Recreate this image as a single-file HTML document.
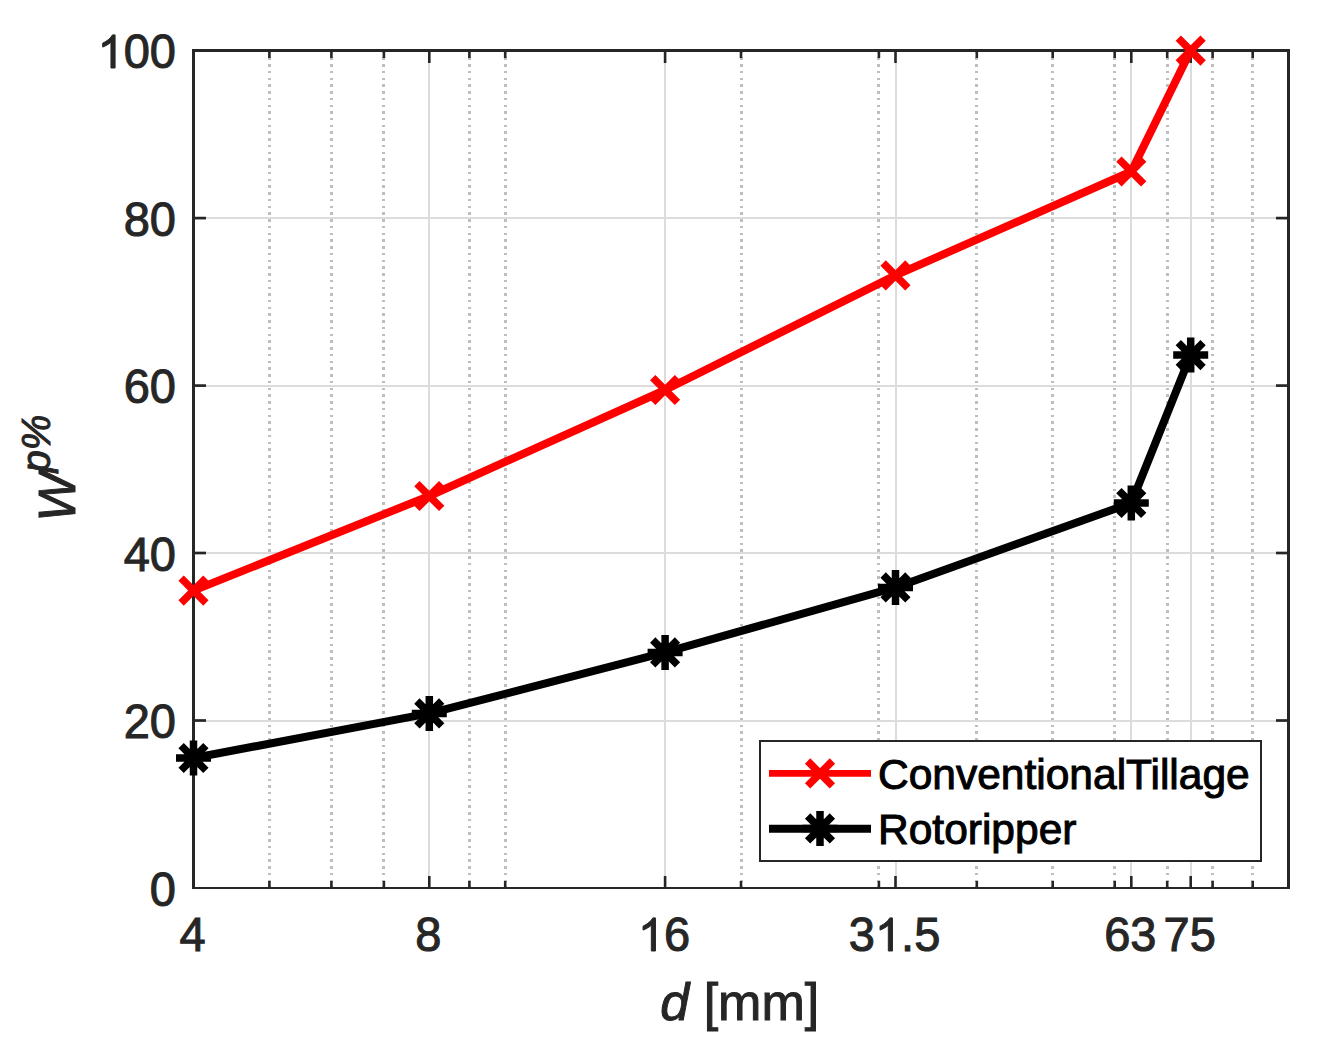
<!DOCTYPE html>
<html><head><meta charset="utf-8"><style>
html,body{margin:0;padding:0;background:#fff;width:1328px;height:1048px;overflow:hidden}
svg{display:block}
</style></head><body>
<svg width="1328" height="1048" viewBox="0 0 1328 1048">
<rect x="0" y="0" width="1328" height="1048" fill="#fff"/>
<line x1="269.5" y1="50.6" x2="269.5" y2="887" stroke="#bebebe" stroke-width="3" stroke-dasharray="2.5 4.24" shape-rendering="crispEdges"/>
<line x1="331.5" y1="50.6" x2="331.5" y2="887" stroke="#bebebe" stroke-width="3" stroke-dasharray="2.5 4.24" shape-rendering="crispEdges"/>
<line x1="383.5" y1="50.6" x2="383.5" y2="887" stroke="#bebebe" stroke-width="3" stroke-dasharray="2.5 4.24" shape-rendering="crispEdges"/>
<line x1="469.5" y1="50.6" x2="469.5" y2="887" stroke="#bebebe" stroke-width="3" stroke-dasharray="2.5 4.24" shape-rendering="crispEdges"/>
<line x1="505.5" y1="50.6" x2="505.5" y2="887" stroke="#bebebe" stroke-width="3" stroke-dasharray="2.5 4.24" shape-rendering="crispEdges"/>
<line x1="741.5" y1="50.6" x2="741.5" y2="887" stroke="#bebebe" stroke-width="3" stroke-dasharray="2.5 4.24" shape-rendering="crispEdges"/>
<line x1="878.5" y1="50.6" x2="878.5" y2="887" stroke="#bebebe" stroke-width="3" stroke-dasharray="2.5 4.24" shape-rendering="crispEdges"/>
<line x1="976.5" y1="50.6" x2="976.5" y2="887" stroke="#bebebe" stroke-width="3" stroke-dasharray="2.5 4.24" shape-rendering="crispEdges"/>
<line x1="1052.5" y1="50.6" x2="1052.5" y2="887" stroke="#bebebe" stroke-width="3" stroke-dasharray="2.5 4.24" shape-rendering="crispEdges"/>
<line x1="1114.5" y1="50.6" x2="1114.5" y2="887" stroke="#bebebe" stroke-width="3" stroke-dasharray="2.5 4.24" shape-rendering="crispEdges"/>
<line x1="1167.5" y1="50.6" x2="1167.5" y2="887" stroke="#bebebe" stroke-width="3" stroke-dasharray="2.5 4.24" shape-rendering="crispEdges"/>
<line x1="1212.5" y1="50.6" x2="1212.5" y2="887" stroke="#bebebe" stroke-width="3" stroke-dasharray="2.5 4.24" shape-rendering="crispEdges"/>
<line x1="1252.5" y1="50.6" x2="1252.5" y2="887" stroke="#bebebe" stroke-width="3" stroke-dasharray="2.5 4.24" shape-rendering="crispEdges"/>
<line x1="429" y1="52" x2="429" y2="887" stroke="#dcdcdc" stroke-width="2"/>
<line x1="665" y1="52" x2="665" y2="887" stroke="#dcdcdc" stroke-width="2"/>
<line x1="896" y1="52" x2="896" y2="887" stroke="#dcdcdc" stroke-width="2"/>
<line x1="1131" y1="52" x2="1131" y2="887" stroke="#dcdcdc" stroke-width="2"/>
<line x1="1191" y1="52" x2="1191" y2="887" stroke="#dcdcdc" stroke-width="2"/>
<line x1="195" y1="721" x2="1287" y2="721" stroke="#dcdcdc" stroke-width="2"/>
<line x1="195" y1="553" x2="1287" y2="553" stroke="#dcdcdc" stroke-width="2"/>
<line x1="195" y1="386" x2="1287" y2="386" stroke="#dcdcdc" stroke-width="2"/>
<line x1="195" y1="218" x2="1287" y2="218" stroke="#dcdcdc" stroke-width="2"/>
<line x1="269.4" y1="51" x2="269.4" y2="58" stroke="#262626" stroke-width="2.6"/>
<line x1="269.4" y1="887" x2="269.4" y2="881" stroke="#262626" stroke-width="2.6"/>
<line x1="331.4" y1="51" x2="331.4" y2="58" stroke="#262626" stroke-width="2.6"/>
<line x1="331.4" y1="887" x2="331.4" y2="881" stroke="#262626" stroke-width="2.6"/>
<line x1="383.9" y1="51" x2="383.9" y2="58" stroke="#262626" stroke-width="2.6"/>
<line x1="383.9" y1="887" x2="383.9" y2="881" stroke="#262626" stroke-width="2.6"/>
<line x1="469.4" y1="51" x2="469.4" y2="58" stroke="#262626" stroke-width="2.6"/>
<line x1="469.4" y1="887" x2="469.4" y2="881" stroke="#262626" stroke-width="2.6"/>
<line x1="505.2" y1="51" x2="505.2" y2="58" stroke="#262626" stroke-width="2.6"/>
<line x1="505.2" y1="887" x2="505.2" y2="881" stroke="#262626" stroke-width="2.6"/>
<line x1="741.0" y1="51" x2="741.0" y2="58" stroke="#262626" stroke-width="2.6"/>
<line x1="741.0" y1="887" x2="741.0" y2="881" stroke="#262626" stroke-width="2.6"/>
<line x1="878.9" y1="51" x2="878.9" y2="58" stroke="#262626" stroke-width="2.6"/>
<line x1="878.9" y1="887" x2="878.9" y2="881" stroke="#262626" stroke-width="2.6"/>
<line x1="976.8" y1="51" x2="976.8" y2="58" stroke="#262626" stroke-width="2.6"/>
<line x1="976.8" y1="887" x2="976.8" y2="881" stroke="#262626" stroke-width="2.6"/>
<line x1="1052.7" y1="51" x2="1052.7" y2="58" stroke="#262626" stroke-width="2.6"/>
<line x1="1052.7" y1="887" x2="1052.7" y2="881" stroke="#262626" stroke-width="2.6"/>
<line x1="1114.7" y1="51" x2="1114.7" y2="58" stroke="#262626" stroke-width="2.6"/>
<line x1="1114.7" y1="887" x2="1114.7" y2="881" stroke="#262626" stroke-width="2.6"/>
<line x1="1167.2" y1="51" x2="1167.2" y2="58" stroke="#262626" stroke-width="2.6"/>
<line x1="1167.2" y1="887" x2="1167.2" y2="881" stroke="#262626" stroke-width="2.6"/>
<line x1="1212.6" y1="51" x2="1212.6" y2="58" stroke="#262626" stroke-width="2.6"/>
<line x1="1212.6" y1="887" x2="1212.6" y2="881" stroke="#262626" stroke-width="2.6"/>
<line x1="1252.7" y1="51" x2="1252.7" y2="58" stroke="#262626" stroke-width="2.6"/>
<line x1="1252.7" y1="887" x2="1252.7" y2="881" stroke="#262626" stroke-width="2.6"/>
<line x1="429.3" y1="51" x2="429.3" y2="63" stroke="#262626" stroke-width="2.6"/>
<line x1="429.3" y1="887" x2="429.3" y2="876" stroke="#262626" stroke-width="2.6"/>
<line x1="665.1" y1="51" x2="665.1" y2="63" stroke="#262626" stroke-width="2.6"/>
<line x1="665.1" y1="887" x2="665.1" y2="876" stroke="#262626" stroke-width="2.6"/>
<line x1="895.5" y1="51" x2="895.5" y2="63" stroke="#262626" stroke-width="2.6"/>
<line x1="895.5" y1="887" x2="895.5" y2="876" stroke="#262626" stroke-width="2.6"/>
<line x1="1131.3" y1="51" x2="1131.3" y2="63" stroke="#262626" stroke-width="2.6"/>
<line x1="1131.3" y1="887" x2="1131.3" y2="876" stroke="#262626" stroke-width="2.6"/>
<line x1="1190.7" y1="51" x2="1190.7" y2="63" stroke="#262626" stroke-width="2.6"/>
<line x1="1190.7" y1="887" x2="1190.7" y2="876" stroke="#262626" stroke-width="2.6"/>
<line x1="194" y1="720.5" x2="206" y2="720.5" stroke="#262626" stroke-width="2.7"/>
<line x1="1288" y1="720.5" x2="1276" y2="720.5" stroke="#262626" stroke-width="2.7"/>
<line x1="194" y1="553.0" x2="206" y2="553.0" stroke="#262626" stroke-width="2.7"/>
<line x1="1288" y1="553.0" x2="1276" y2="553.0" stroke="#262626" stroke-width="2.7"/>
<line x1="194" y1="385.6" x2="206" y2="385.6" stroke="#262626" stroke-width="2.7"/>
<line x1="1288" y1="385.6" x2="1276" y2="385.6" stroke="#262626" stroke-width="2.7"/>
<line x1="194" y1="218.1" x2="206" y2="218.1" stroke="#262626" stroke-width="2.7"/>
<line x1="1288" y1="218.1" x2="1276" y2="218.1" stroke="#262626" stroke-width="2.7"/>
<path d="M193.5 888 V50.5 H1288.5 V888" fill="none" stroke="#262626" stroke-width="3"/>
<line x1="192" y1="888" x2="1290" y2="888" stroke="#262626" stroke-width="2"/>
<polyline points="193.5,590.6 429.3,496.0 665.1,390.0 895.5,275.4 1131.3,171.5 1190.7,50.6" fill="none" stroke="#f00" stroke-width="8" stroke-linejoin="round"/>
<polyline points="193.5,758.0 429.3,713.4 665.1,652.4 895.5,587.4 1131.3,503.0 1190.7,355.1" fill="none" stroke="#000" stroke-width="8" stroke-linejoin="round"/>
<path d="M181.1 578.2L205.9 603.0M181.1 603.0L205.9 578.2" stroke="#f00" stroke-width="7.5" fill="none"/>
<path d="M416.9 483.6L441.7 508.4M416.9 508.4L441.7 483.6" stroke="#f00" stroke-width="7.5" fill="none"/>
<path d="M652.7 377.6L677.5 402.4M652.7 402.4L677.5 377.6" stroke="#f00" stroke-width="7.5" fill="none"/>
<path d="M883.1 263.0L907.9 287.8M883.1 287.8L907.9 263.0" stroke="#f00" stroke-width="7.5" fill="none"/>
<path d="M1118.9 159.1L1143.7 183.9M1118.9 183.9L1143.7 159.1" stroke="#f00" stroke-width="7.5" fill="none"/>
<path d="M1178.3 38.2L1203.1 63.0M1178.3 63.0L1203.1 38.2" stroke="#f00" stroke-width="7.5" fill="none"/>
<path d="M181.1 745.6L205.9 770.4M181.1 770.4L205.9 745.6M176.0 758.0H211.0M193.5 740.5V775.5" stroke="#000" stroke-width="7.5" fill="none"/>
<path d="M416.9 701.0L441.7 725.8M416.9 725.8L441.7 701.0M411.8 713.4H446.8M429.3 695.9V730.9" stroke="#000" stroke-width="7.5" fill="none"/>
<path d="M652.7 640.0L677.5 664.8M652.7 664.8L677.5 640.0M647.6 652.4H682.6M665.1 634.9V669.9" stroke="#000" stroke-width="7.5" fill="none"/>
<path d="M883.1 575.0L907.9 599.8M883.1 599.8L907.9 575.0M878.0 587.4H913.0M895.5 569.9V604.9" stroke="#000" stroke-width="7.5" fill="none"/>
<path d="M1118.9 490.6L1143.7 515.4M1118.9 515.4L1143.7 490.6M1113.8 503.0H1148.8M1131.3 485.5V520.5" stroke="#000" stroke-width="7.5" fill="none"/>
<path d="M1178.3 342.7L1203.1 367.5M1178.3 367.5L1203.1 342.7M1173.2 355.1H1208.2M1190.7 337.6V372.6" stroke="#000" stroke-width="7.5" fill="none"/>
<rect x="760" y="741" width="501" height="120" fill="#fff" stroke="#262626" stroke-width="2"/>
<line x1="769" y1="773.4" x2="871" y2="773.4" stroke="#f00" stroke-width="6.7"/>
<path d="M807.6 761.0L832.4 785.8M807.6 785.8L832.4 761.0" stroke="#f00" stroke-width="7.5" fill="none"/>
<line x1="769" y1="828.8" x2="871" y2="828.8" stroke="#000" stroke-width="8"/>
<path d="M807.6 816.0L832.4 840.8M807.6 840.8L832.4 816.0M802.5 828.4H837.5M820.0 810.9V845.9" stroke="#000" stroke-width="7.5" fill="none"/>
<text x="878" y="789" font-family="Liberation Sans, sans-serif" stroke-width="1" font-size="42.5" fill="#000" stroke="#000">ConventionalTillage</text>
<text x="878" y="844.4" font-family="Liberation Sans, sans-serif" stroke-width="1" font-size="42.5" fill="#000" stroke="#000">Rotoripper</text>
<text transform="translate(149.86 906.00) scale(1 1.03)" font-family="Liberation Sans, sans-serif" stroke-width="1" font-size="47" fill="#262626" stroke="#262626">0</text>
<text transform="translate(123.72 738.00) scale(1 1.03)" font-family="Liberation Sans, sans-serif" stroke-width="1" font-size="47" fill="#262626" stroke="#262626">20</text>
<text transform="translate(123.72 571.00) scale(1 1.03)" font-family="Liberation Sans, sans-serif" stroke-width="1" font-size="47" fill="#262626" stroke="#262626">40</text>
<text transform="translate(123.72 403.00) scale(1 1.03)" font-family="Liberation Sans, sans-serif" stroke-width="1" font-size="47" fill="#262626" stroke="#262626">60</text>
<text transform="translate(123.72 236.00) scale(1 1.03)" font-family="Liberation Sans, sans-serif" stroke-width="1" font-size="47" fill="#262626" stroke="#262626">80</text>
<path transform="translate(97.58 68.00) scale(0.022949 -0.022490)" d="M763 0H583V1147Q518 1085 412 1023Q306 961 222 930V1104Q373 1175 486 1276Q599 1377 646 1472H763Z" fill="#262626" stroke="#262626" stroke-width="43.57"/>
<text transform="translate(123.72 68.00) scale(1 1.03)" font-family="Liberation Sans, sans-serif" stroke-width="1" font-size="47" fill="#262626" stroke="#262626">00</text>
<text transform="translate(179.43 951.00) scale(1 1.03)" font-family="Liberation Sans, sans-serif" stroke-width="1" font-size="47" fill="#262626" stroke="#262626">4</text>
<text transform="translate(415.23 951.00) scale(1 1.03)" font-family="Liberation Sans, sans-serif" stroke-width="1" font-size="47" fill="#262626" stroke="#262626">8</text>
<path transform="translate(637.96 951.00) scale(0.022949 -0.022490)" d="M763 0H583V1147Q518 1085 412 1023Q306 961 222 930V1104Q373 1175 486 1276Q599 1377 646 1472H763Z" fill="#262626" stroke="#262626" stroke-width="43.57"/>
<text transform="translate(664.10 951.00) scale(1 1.03)" font-family="Liberation Sans, sans-serif" stroke-width="1" font-size="47" fill="#262626" stroke="#262626">6</text>
<text transform="translate(848.80 951.00) scale(1 1.03)" font-family="Liberation Sans, sans-serif" stroke-width="1" font-size="47" fill="#262626" stroke="#262626">3</text>
<path transform="translate(874.94 951.00) scale(0.022949 -0.022490)" d="M763 0H583V1147Q518 1085 412 1023Q306 961 222 930V1104Q373 1175 486 1276Q599 1377 646 1472H763Z" fill="#262626" stroke="#262626" stroke-width="43.57"/>
<text transform="translate(901.08 951.00) scale(1 1.03)" font-family="Liberation Sans, sans-serif" stroke-width="1" font-size="47" fill="#262626" stroke="#262626">.5</text>
<text transform="translate(1104.20 951.00) scale(1 1.03)" font-family="Liberation Sans, sans-serif" stroke-width="1" font-size="47" fill="#262626" stroke="#262626">63</text>
<text transform="translate(1163.52 951.00) scale(1 1.03)" font-family="Liberation Sans, sans-serif" stroke-width="1" font-size="47" fill="#262626" stroke="#262626">75</text>
<text x="660.3" y="1020" font-family="Liberation Sans, sans-serif" stroke-width="1" font-size="52" fill="#262626" stroke="#262626"><tspan font-style="italic">d</tspan> [mm]</text>
<text transform="translate(75 521.7) rotate(-90)" font-family="Liberation Sans, sans-serif" stroke-width="1" font-size="52" fill="#262626" stroke="#262626" font-style="italic">W<tspan font-size="40" dy="-25.2">p%</tspan></text>
</svg>
</body></html>
